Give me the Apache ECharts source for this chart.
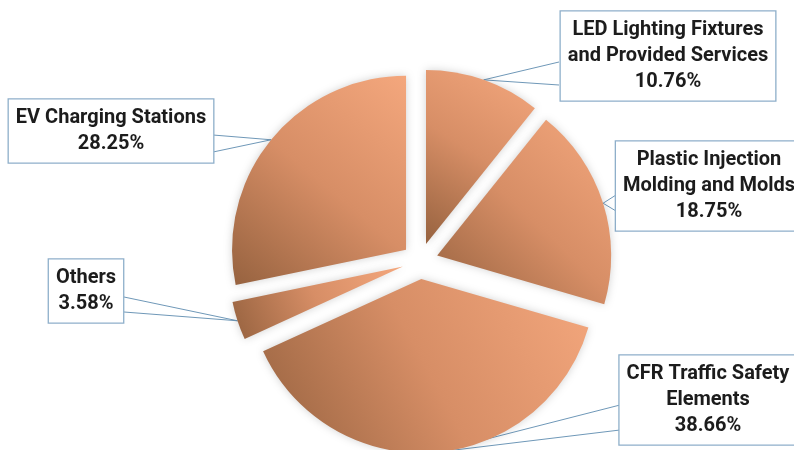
<!DOCTYPE html>
<html>
<head>
<meta charset="utf-8">
<script src="https://cdn.jsdelivr.net/npm/echarts@6/dist/echarts.min.js"></script>
<style>html,body{margin:0;padding:0;background:#fff}#c{width:794px;height:450px}</style>
</head>
<body>
<div id="c"></div>
<script>
const categories = ['LED Lighting Fixtures\nand Provided Services', 'Plastic Injection\nMolding and Molds', 'CFR Traffic Safety\nElements', 'Others', 'EV Charging Stations'];
const shares = [10.76, 18.75, 38.66, 3.58, 28.25];

// label box centres and callout base points on the box edge (styling only)
const labelBoxes = [
  {x: 668, y: 56, a: [559, 62], b: [559, 85]},
  {x: 709, y: 186, a: [616, 195], b: [616, 211]},
  {x: 708, y: 400, a: [620, 405], b: [620, 430]},
  {x: 86, y: 291, a: [124, 297], b: [124, 312]},
  {x: 111, y: 131, a: [213, 135], b: [213, 152]}
];

const CX = 420, CY = 261, R = 174, OFF = 18;

const chart = echarts.init(document.getElementById('c'), null, {renderer: 'canvas'});
const grad = {
  type: 'linear', x: 0, y: 1, x2: 1, y2: 0,
  colorStops: [
    {offset: 0, color: '#96623f'},
    {offset: 0.5, color: '#d78e66'},
    {offset: 1, color: '#f4a77d'}
  ]
};
const pieData = (sel) => categories.map((c, i) => ({name: c, value: shares[i], selected: sel}));

chart.setOption({
  animation: false,
  backgroundColor: '#ffffff',
  series: [{
    // exploded slices
    type: 'pie',
    center: [CX, CY],
    radius: R,
    startAngle: 90,
    clockwise: true,
    selectedMode: 'multiple',
    selectedOffset: OFF,
    silent: true,
    emphasis: {scale: false},
    itemStyle: {color: grad, shadowBlur: 8, shadowColor: 'rgba(0,0,0,0.18)'},
    select: {itemStyle: {color: grad}},
    label: {show: false},
    labelLine: {show: false},
    data: pieData(true)
  }, {
    // label carrier (same data, invisible sectors)
    type: 'pie',
    center: [CX, CY],
    radius: R,
    startAngle: 90,
    clockwise: true,
    silent: true,
    avoidLabelOverlap: false,
    itemStyle: {color: 'rgba(0,0,0,0)', borderWidth: 0},
    label: {
      show: true,
      position: 'outside',
      formatter: p => p.name + '\n' + p.value.toFixed(2) + '%',
      fontFamily: 'Roboto',
      fontWeight: 'bold',
      fontSize: 20,
      lineHeight: 26,
      color: '#1c1c1c',
      align: 'center',
      backgroundColor: '#ffffff',
      borderColor: '#8eafca',
      borderWidth: 1.3,
      padding: [6, 7, 5, 7]
    },
    labelLine: {show: true, lineStyle: {color: '#6f98b8', width: 1}},
    labelLayout: function (params) {
      const box = labelBoxes[params.dataIndex];
      const p = params.labelLinePoints[0];
      const dx = p[0] - CX, dy = p[1] - CY, len = Math.sqrt(dx * dx + dy * dy) || 1;
      const tip = [p[0] + dx / len * OFF, p[1] + dy / len * OFF];
      return {
        x: box.x, y: box.y, align: 'center', verticalAlign: 'middle',
        labelLinePoints: [box.a, tip, box.b]
      };
    },
    data: pieData(false)
  }]
});
</script>
</body>
</html>
